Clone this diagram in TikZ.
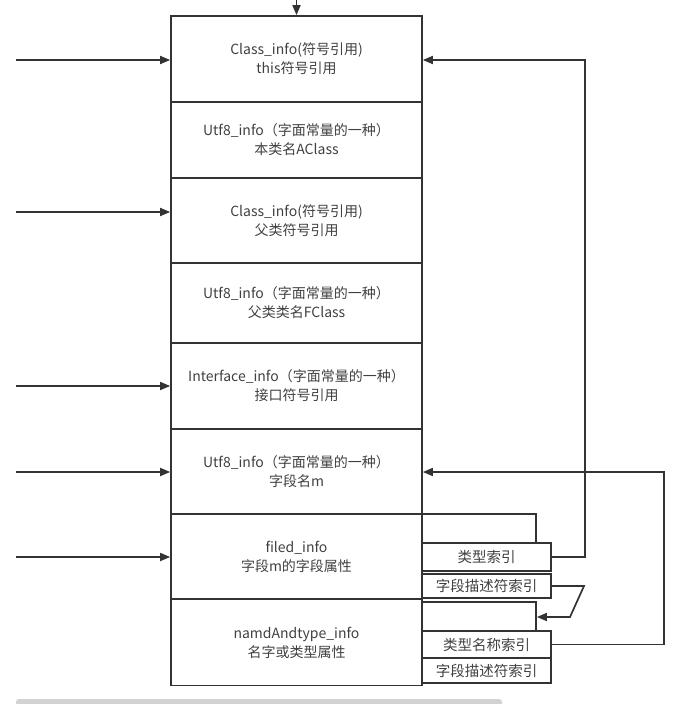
\documentclass[tikz,border=0pt]{standalone}
\usepackage{fontspec}
\setmainfont{Noto Sans CJK SC}
\usetikzlibrary{arrows.meta,calc}
\definecolor{ln}{HTML}{333333}
\definecolor{tx}{HTML}{404040}
\definecolor{bar}{HTML}{D2D2D2}
\begin{document}
\begin{tikzpicture}[x=1pt,y=-1pt,
  mainbox/.style={draw=ln,line width=1.7pt,minimum width=251pt,inner sep=0pt,
    align=center,text=tx,font=\fontsize{14}{19}\selectfont},
  subbox/.style={draw=ln,line width=1.7pt,minimum width=129pt,inner sep=0pt,
    align=center,text=tx,font=\fontsize{14.5}{16}\selectfont},
  openbox/.style={draw=ln,line width=1.7pt,minimum width=114pt,inner sep=0pt},
  conn/.style={draw=ln,line width=1.7pt},
  arr/.style={conn,-{Triangle[length=10pt,width=8pt]}}]
\useasboundingbox (0,0) rectangle (691,704);
\fill[bar,rounded corners=3pt] (16,699) rectangle (502,712);
% main column
\node[mainbox,minimum height=86pt] (b1) at (296.5,59) {Class\_info(符号引用)\\this符号引用};
\node[mainbox,minimum height=76pt] (b2) at (296.5,140) {Utf8\_info（字面常量的一种）\\本类名AClass};
\node[mainbox,minimum height=85pt] (b3) at (296.5,220.5) {Class\_info(符号引用)\\父类符号引用};
\node[mainbox,minimum height=80pt] (b4) at (296.5,303) {Utf8\_info（字面常量的一种）\\父类类名FClass};
\node[mainbox,minimum height=86pt] (b5) at (296.5,386) {Interface\_info（字面常量的一种）\\接口符号引用};
\node[mainbox,minimum height=85pt] (b6) at (296.5,471.5) {Utf8\_info（字面常量的一种）\\字段名m};
\node[mainbox,minimum height=85pt] (b7) at (296.5,556.5) {filed\_info\\字段m的字段属性};
\node[mainbox,minimum height=86pt] (b8) at (296.5,642.5) {namdAndtype\_info\\名字或类型属性};
% right side small boxes
\node[openbox,minimum height=29pt] (o1) at (479,528.5) {};
\node[subbox,minimum height=28pt] (s1) at (486.5,557) {类型索引};
\node[subbox,minimum height=24pt] (s2) at (486.5,586) {字段描述符索引};
\node[openbox,minimum height=29pt] (o2) at (479,616.5) {};
\node[subbox,minimum height=27pt] (s3) at (486.5,644.5) {类型名称索引};
\node[subbox,minimum height=25pt] (s4) at (486.5,670.5) {字段描述符索引};
% incoming arrows
\coordinate (t0) at (296.5,0);
\coordinate (l1) at (16,60);
\coordinate (l3) at (16,212);
\coordinate (l5) at (16,386);
\coordinate (l6) at (16,472);
\coordinate (l7) at (16,557);
\draw[arr] (t0) -- (b1.north);
\draw[arr] (l1) -- (l1 -| b1.west);
\draw[arr] (l3) -- (l3 -| b3.west);
\draw[arr] (l5) -- (l5 -| b5.west);
\draw[arr] (l6) -- (l6 -| b6.west);
\draw[arr] (l7) -- (l7 -| b7.west);
% right connectors
\coordinate (r1) at (585,60);
\draw[arr] (s1.east) -- (s1.east -| r1) -- (r1) -- (r1 -| b1.east);
\coordinate (r3) at (664,472);
\draw[arr] (s3.east) -- (s3.east -| r3) -- (r3) -- (r3 -| b6.east);
\coordinate (k1) at (584,586);
\coordinate (k2) at (570,617);
\draw[arr] (s2.east) -- (k1) -- (k2) -- (k2 -| o2.east);
\end{tikzpicture}
\end{document}
